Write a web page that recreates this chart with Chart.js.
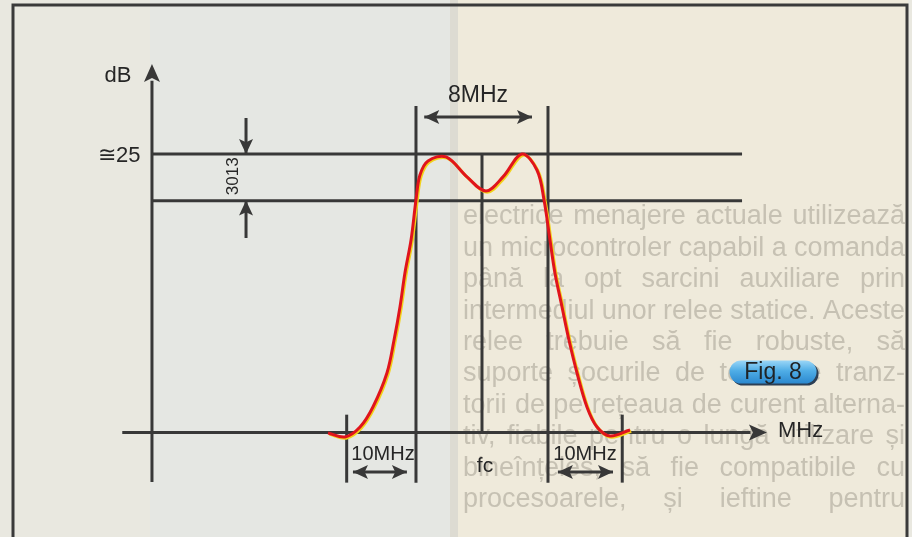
<!DOCTYPE html>
<html>
<head>
<meta charset="utf-8">
<script src="https://cdn.jsdelivr.net/npm/chart.js@4.4.0/dist/chart.umd.min.js"></script>
<style>
  body { margin: 0; background: #e9e8e0; }
  canvas { display: block; }
</style>
</head>
<body>
<canvas id="fig8" width="912" height="537"></canvas>
<script>
// response curve (x = MHz from fc, y = dB)
const curveMHz = [-9.33, -8.3, -7.39, -6.61, -5.76, -5.33, -4.97, -4.67, -4.3, -4.0, -3.76, -3.27, -2.18, -0.91, 0.24, 1.27, 2.42, 3.33, 3.76, 4.12, 4.42, 4.85, 5.27, 5.76, 6.36, 6.97, 7.76, 8.97];
const curveDb = [-0.04, -0.4, 0.49, 2.29, 5.34, 8.3, 11.27, 14.32, 17.28, 20.87, 23.11, 24.37, 24.73, 22.94, 21.68, 22.94, 25.0, 23.56, 20.87, 17.28, 14.32, 11.27, 8.3, 5.34, 2.29, 0.49, -0.31, 0.22];

// reference levels and frequency marks
const levelDb = [25, 20.8];
const levelFrom = -20;
const levelTo = 15.76;
const bandEdges = [-4, 4];
const outerEdges = [-8.2, 8.5];
const fc = 0;
const xAxisRange = [-21.8, 17.27];
const yAxisRange = [-4.44, 33.08];
const yAxisAt = -20;
const bandTop = 29.3;
const markBottom = -4.5;
const outerTop = 1.6;

// arrows: [x1, y1, x2, y2, heads]
const arrows = [
  [-3.5, 28.32, 3.03, 28.32, 2],
  [-7.82, -3.55, -4.55, -3.55, 2],
  [4.6, -3.55, 7.94, -3.55, 2],
  [-14.3, 28.23, -14.3, 25, 1],
  [-14.3, 17.46, -14.3, 20.83, 1],
];

// labels: text, x, y, font size, align, rotation
const labels = [
  ["dB", -22.06, 32.1, 22, "center", 0],
  ["\u224525", -20.7, 24.95, 22, "right", 0],
  ["8MHz", -0.24, 30.3, 23, "center", 0],
  ["3013", -15.15, 23.0, 17, "center", -90],
  ["10MHz", -6.0, -1.84, 20, "center", 0],
  ["10MHz", 6.24, -1.84, 20, "center", 0],
  ["fc", 0.18, -2.92, 21, "center", 0],
  ["MHz", 17.94, 0.22, 22, "left", 0],
];
const figLabel = ["Fig. 8", 17.64, 5.43];

const ink = "#383838";

function seg(x1, y1, x2, y2) {
  return {
    data: [{ x: x1, y: y1 }, { x: x2, y: y2 }],
    borderColor: ink,
    borderWidth: 3,
    pointRadius: 0,
    showLine: true,
    tension: 0,
    order: 2,
  };
}

const datasets = [];
datasets.push({
  label: "curve",
  data: curveMHz.map((x, i) => ({ x: x, y: curveDb[i] })),
  borderColor: "#e0141c",
  borderWidth: 3,
  pointRadius: 0,
  showLine: true,
  tension: 0.35,
  order: 0,
});
datasets.push(seg(xAxisRange[0], 0, xAxisRange[1] - 1, 0));
datasets.push(seg(yAxisAt, yAxisRange[0], yAxisAt, yAxisRange[1] - 1.5));
levelDb.forEach((d) => datasets.push(seg(levelFrom, d, levelTo, d)));
bandEdges.forEach((x) => datasets.push(seg(x, markBottom, x, bandTop)));
outerEdges.forEach((x) => datasets.push(seg(x, markBottom, x, outerTop)));
datasets.push(seg(fc, 0, fc, levelDb[0]));
arrows.forEach((a) => datasets.push(seg(a[0], a[1], a[2], a[3])));

// faded article text printed behind the figure
const pageText = [
  "electrice menajere actuale utilizează",
  "un microcontroler capabil a comanda",
  "până la opt sarcini auxiliare prin",
  "intermediul unor relee statice. Aceste",
  "relee trebuie să fie robuste, să",
  "suporte șocurile de tensiune tranz-",
  "torii de pe rețeaua de curent alterna-",
  "tiv, fiabile pentru o lungă utilizare și",
  "bineînțeles, să fie compatibile cu",
  "procesoarele, și ieftine pentru",
];

function head(ctx, tx, ty, dx, dy, len, half) {
  const n = Math.hypot(dx, dy);
  dx /= n; dy /= n;
  ctx.beginPath();
  ctx.moveTo(tx, ty);
  ctx.lineTo(tx - dx * len - dy * half, ty - dy * len + dx * half);
  ctx.lineTo(tx - dx * len * 0.78, ty - dy * len * 0.78);
  ctx.lineTo(tx - dx * len + dy * half, ty - dy * len - dx * half);
  ctx.closePath();
  ctx.fill();
}

function fitLine(ctx, line, x, y, width) {
  const words = line.split(" ");
  const natural = ctx.measureText(line).width;
  const sx = Math.min(1, width / natural);
  ctx.save();
  ctx.translate(x, y);
  ctx.scale(sx, 1);
  // spread leftover room over the gaps
  const extra = words.length > 1 ? (width - natural * sx) / (words.length - 1) / sx : 0;
  let cx = 0;
  words.forEach((w) => {
    ctx.fillText(w, cx, 0);
    cx += ctx.measureText(w + " ").width + extra;
  });
  ctx.restore();
}

const decor = {
  id: "decor",
  beforeDraw(chart) {
    const ctx = chart.ctx;
    ctx.save();
    ctx.fillStyle = "#e9e8e0";
    ctx.fillRect(0, 0, 912, 537);
    ctx.fillStyle = "#e5e7e3";
    ctx.fillRect(150, 0, 300, 537);
    ctx.fillStyle = "#efeadb";
    ctx.fillRect(458, 0, 450, 537);
    ctx.fillStyle = "#dddbd2";
    ctx.fillRect(450, 0, 8, 537);
    ctx.fillStyle = "#c6c1b3";
    ctx.font = "27px 'Liberation Sans', Arial, sans-serif";
    ctx.textBaseline = "middle";
    pageText.forEach((t, i) => fitLine(ctx, t, 463, 217 + i * 31.4, 442));
    ctx.restore();
  },
  beforeDatasetDraw(chart, args) {
    if (args.index === 0) {
      const ctx = chart.ctx;
      ctx.save();
      ctx.shadowColor = "#f2d21a";
      ctx.shadowOffsetX = 1.2;
      ctx.shadowOffsetY = 1.2;
      ctx.shadowBlur = 0;
    }
  },
  afterDatasetDraw(chart, args) {
    if (args.index === 0) chart.ctx.restore();
  },
  afterDraw(chart) {
    const ctx = chart.ctx;
    const xs = chart.scales.x;
    const ys = chart.scales.y;
    const px = (v) => xs.getPixelForValue(v);
    const py = (v) => ys.getPixelForValue(v);
    ctx.save();
    ctx.fillStyle = ink;
    // axis arrows
    head(ctx, px(xAxisRange[1]), py(0), 1, 0, 18, 8);
    head(ctx, px(yAxisAt), py(yAxisRange[1]), 0, -1, 18, 8);
    arrows.forEach((a) => {
      const x1 = px(a[0]), y1 = py(a[1]), x2 = px(a[2]), y2 = py(a[3]);
      head(ctx, x2, y2, x2 - x1, y2 - y1, 15, 7);
      if (a[4] === 2) head(ctx, x1, y1, x1 - x2, y1 - y2, 15, 7);
    });
    // labels
    ctx.fillStyle = "#262626";
    ctx.textBaseline = "middle";
    labels.forEach((l) => {
      ctx.save();
      ctx.font = l[3] + "px 'Liberation Sans', Arial, sans-serif";
      ctx.textAlign = l[4];
      ctx.translate(px(l[1]), py(l[2]));
      ctx.rotate((l[5] * Math.PI) / 180);
      ctx.fillText(l[0], 0, 1);
      ctx.restore();
    });
    // Fig. 8 badge
    const cx = px(figLabel[1]);
    const cy = py(figLabel[2]);
    const w = 87, h = 23;
    ctx.fillStyle = "#2c3f55";
    ctx.beginPath();
    ctx.roundRect(cx - w / 2 + 2, cy - h / 2 + 2, w, h, h / 2);
    ctx.fill();
    const g = ctx.createLinearGradient(0, cy - h / 2, 0, cy + h / 2);
    g.addColorStop(0, "#9ad6f7");
    g.addColorStop(0.45, "#4fade6");
    g.addColorStop(1, "#2b88cf");
    ctx.fillStyle = g;
    ctx.beginPath();
    ctx.roundRect(cx - w / 2, cy - h / 2, w, h, h / 2);
    ctx.fill();
    ctx.fillStyle = "#1f2326";
    ctx.font = "23px 'Liberation Sans', Arial, sans-serif";
    ctx.textAlign = "center";
    ctx.fillText(figLabel[0], cx, cy + 1);
    // outer frame
    ctx.strokeStyle = "#3a3a3a";
    ctx.lineWidth = 3;
    ctx.beginPath();
    ctx.moveTo(13, 545);
    ctx.lineTo(13, 5);
    ctx.lineTo(907, 5);
    ctx.lineTo(907, 545);
    ctx.stroke();
    ctx.restore();
  },
};

new Chart(document.getElementById("fig8"), {
  type: "scatter",
  data: { datasets: datasets },
  options: {
    responsive: false,
    animation: false,
    devicePixelRatio: 1,
    layout: { padding: 0 },
    plugins: { legend: { display: false }, tooltip: { enabled: false } },
    scales: {
      x: { type: "linear", display: false, min: -29.21, max: 26.06 },
      y: { type: "linear", display: false, min: -9.38, max: 38.82 },
    },
  },
  plugins: [decor],
});
</script>
</body>
</html>
